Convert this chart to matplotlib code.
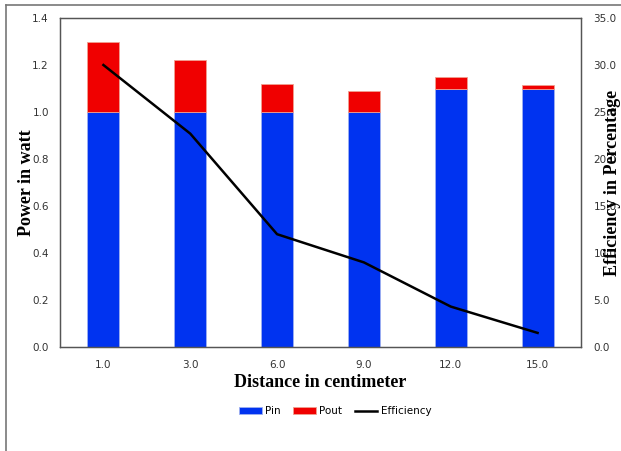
import numpy as np
import matplotlib.pyplot as plt
from matplotlib.lines import Line2D

distance = ['1.0', '3.0', '6.0', '9.0', '12.0', '15.0']
p_in = [1.0, 1.0, 1.0, 1.0, 1.1, 1.1]
p_out = [0.3, 0.22, 0.12, 0.09, 0.05, 0.015]
efficiency = [30.0, 22.7, 12.0, 9.0, 4.3, 1.5]

x = np.arange(len(distance))

fig = plt.figure(figsize=(6.21, 4.51), dpi=100)
ax = fig.add_axes([60/621, 1 - 347/451, 521/621, 329/451])
ax2 = ax.twinx()

ax.bar(x, p_in, width=0.37, color='#0033F0', edgecolor='#9fb0f0', linewidth=0.6, label='Pin')
ax.bar(x, p_out, width=0.37, bottom=p_in, color='#F00000', edgecolor='#f0a090', linewidth=0.6, label='Pout')
ax2.plot(x, efficiency, color='black', linewidth=1.8, label='Efficiency')

ax.set_xlim(-0.5, len(distance) - 0.5)
ax.set_ylim(0, 1.4)
ax2.set_ylim(0, 35)
ax.set_yticks(np.arange(0, 1.41, 0.2))
ax2.set_yticks(np.arange(0, 35.1, 5))
ax.set_yticklabels(['%.1f' % v for v in np.arange(0, 1.41, 0.2)])
ax2.set_yticklabels(['%.1f' % v for v in np.arange(0, 35.1, 5)])
ax.set_xticks(x)
ax.set_xticklabels(distance)

for a in (ax, ax2):
    a.tick_params(length=0, labelsize=7.5, labelcolor='#333333')
    for s in a.spines.values():
        s.set_color('#555555')
        s.set_linewidth(0.9)
ax.tick_params(axis='y', pad=8)
ax.tick_params(axis='x', pad=9)
ax2.tick_params(axis='y', pad=9)

serif = dict(family='Liberation Serif', fontsize=13, fontweight='bold')
ax.set_xlabel('Distance in centimeter', labelpad=3, **serif)
ax.set_ylabel('Power in watt', labelpad=-2, **serif)
ax2.set_ylabel('Efficiency in Percentage', labelpad=-9, **serif)

h1, l1 = ax.get_legend_handles_labels()
h2, l2 = ax2.get_legend_handles_labels()
fig.legend(h1 + h2, l1 + l2, loc='center', bbox_to_anchor=(335/621, 1 - 411/451),
           ncol=3, frameon=False, fontsize=7.5, handlelength=2.2, handleheight=0.6,
           columnspacing=1.2, handletextpad=0.3)

# page border
fig.add_artist(Line2D([6/621, 6/621], [0, 1 - 5/451], color='#777777', linewidth=1.2))
fig.add_artist(Line2D([6/621, 1], [1 - 5/451, 1 - 5/451], color='#777777', linewidth=1.2))

plt.savefig('out.png', dpi=100)
